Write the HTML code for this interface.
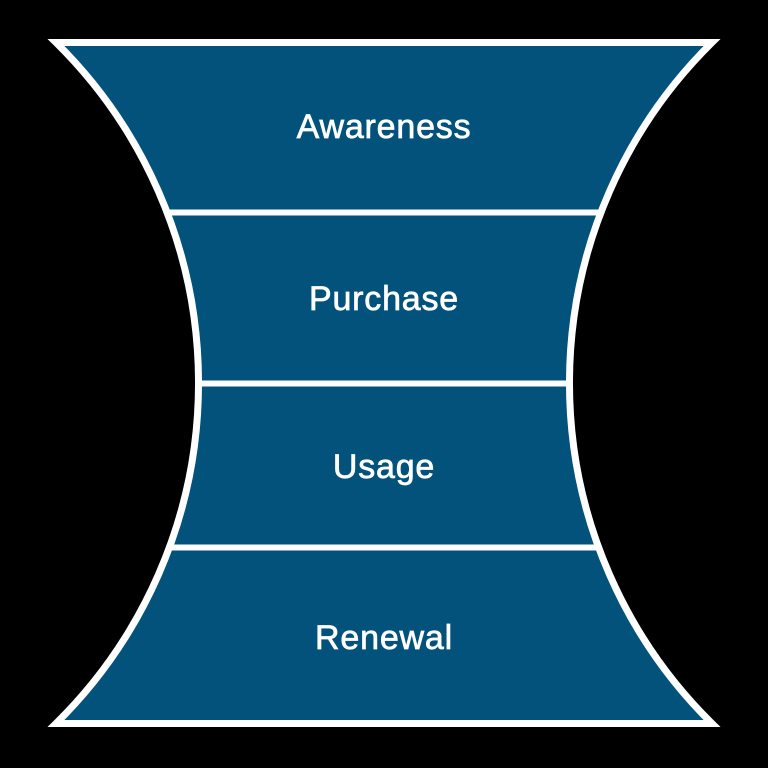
<!DOCTYPE html>
<html><head><meta charset="utf-8"><style>
html,body{margin:0;padding:0;background:#000;}
svg{display:block}
text{font-family:"Liberation Sans",Arial,sans-serif;font-size:34px;fill:#fff;stroke:#fff;stroke-width:0.7px;letter-spacing:0.8px}
</style></head><body>
<svg width="768" height="768" viewBox="0 0 768 768">
<defs>
<clipPath id="c"><path d="M56,42.5 L712,42.5 A478,478 0 0 0 712,723.5 L56,723.5 A478,478 0 0 0 56,42.5 Z"/></clipPath>
</defs>
<rect width="768" height="768" fill="#000"/>
<path d="M56,42.5 L712,42.5 A478,478 0 0 0 712,723.5 L56,723.5 A478,478 0 0 0 56,42.5 Z" fill="#02527c"/>
<g stroke="#fff" stroke-width="6" clip-path="url(#c)">
<line x1="100" y1="212.5" x2="668" y2="212.5"/>
<line x1="100" y1="383.5" x2="668" y2="383.5"/>
<line x1="100" y1="547.5" x2="668" y2="547.5"/>
</g>
<path d="M56,42.5 L712,42.5 A478,478 0 0 0 712,723.5 L56,723.5 A478,478 0 0 0 56,42.5 Z" fill="none" stroke="#fff" stroke-width="7" stroke-linejoin="miter"/>
<text x="384" y="138" text-anchor="middle">Awareness</text>
<text x="384" y="310" text-anchor="middle">Purchase</text>
<text x="384" y="478" text-anchor="middle">Usage</text>
<text x="384" y="649" text-anchor="middle">Renewal</text>
</svg>
</body></html>
